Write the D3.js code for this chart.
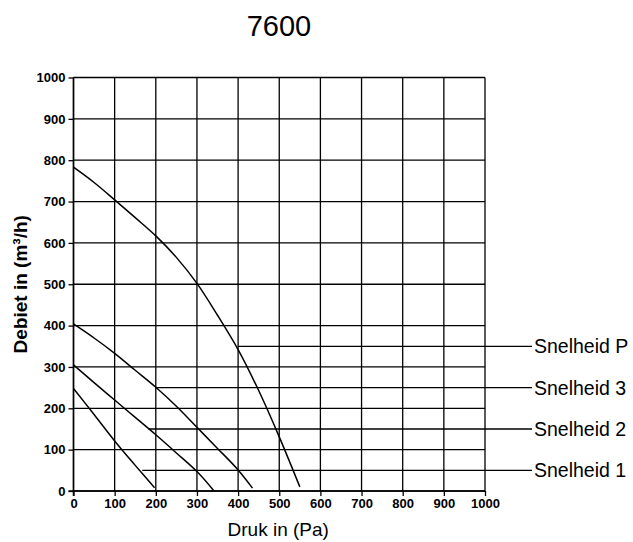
<!DOCTYPE html>
<html>
<head>
<meta charset="utf-8">
<script src="https://cdn.jsdelivr.net/npm/d3@7"></script>
<style>
  body { margin: 0; background: #fff; }
  svg { font-family: "Liberation Sans", Arial, sans-serif; }
</style>
</head>
<body>
<svg id="chart" width="633" height="542"></svg>
<script>
// curves: [druk (Pa), debiet (m3/h)]
var snelheid1 = [[0, 248], [50, 185], [100, 121], [150, 62], [197, 8]];
var snelheid2 = [[0, 305], [50, 262], [100, 220], [150, 178], [200, 136], [250, 92], [300, 47], [340, 2]];
var snelheid3 = [[0, 404], [50, 370], [100, 333], [150, 292], [200, 251], [250, 205], [300, 154], [350, 103], [400, 51], [435, 7]];
var snelheidP = [[0, 783], [50, 746], [100, 704], [150, 661], [200, 617], [250, 565], [300, 502], [350, 425], [400, 342], [450, 243], [500, 131], [550, 10]];

// legend: label, the level it points at, where the leader line starts
var legendNames = ["Snelheid P", "Snelheid 3", "Snelheid 2", "Snelheid 1"];
var legendLevels = [350, 250, 150, 50];
var legendStart = [400, 200, 182, 167];

var xTicks = d3.range(0, 1001, 100);
var yTicks = d3.range(0, 1001, 100);

var svg = d3.select("#chart");

var x = d3.scaleLinear().domain([0, 1000]).range([73.5, 485]);
var y = d3.scaleLinear().domain([0, 1000]).range([491, 77.5]);

// grid
var grid = svg.append("g").attr("stroke", "#000").attr("stroke-width", 1.3);
grid.selectAll(".vx").data(xTicks).enter().append("line")
  .attr("x1", function(d) { return x(d); })
  .attr("x2", function(d) { return x(d); })
  .attr("y1", y(0)).attr("y2", y(1000));
grid.selectAll(".hy").data(yTicks).enter().append("line")
  .attr("y1", function(d) { return y(d); })
  .attr("y2", function(d) { return y(d); })
  .attr("x1", x(0)).attr("x2", x(1000));

// axes
var fmt = d3.format("d");
var xAxis = svg.append("g")
  .attr("transform", "translate(0," + y(0) + ")")
  .call(d3.axisBottom(x).tickValues(xTicks).tickFormat(fmt).tickSize(5).tickPadding(3));
var yAxis = svg.append("g")
  .attr("transform", "translate(" + x(0) + ",0)")
  .call(d3.axisLeft(y).tickValues(yTicks).tickFormat(fmt).tickSize(5).tickPadding(3));

[xAxis, yAxis].forEach(function(a) {
  a.select(".domain").remove();
  a.selectAll(".tick line").attr("stroke", "#000").attr("stroke-width", 1.3);
  a.selectAll(".tick text")
    .attr("fill", "#000")
    .style("font-size", "13px")
    .style("font-weight", "bold")
    .style("font-family", "'Liberation Sans', Arial, sans-serif");
});
// the axis lines themselves
svg.append("line").attr("x1", x(0)).attr("x2", x(0)).attr("y1", y(0) + 5).attr("y2", y(1000))
  .attr("stroke", "#000").attr("stroke-width", 1.5);
svg.append("line").attr("x1", x(0) - 5).attr("x2", x(1000)).attr("y1", y(0)).attr("y2", y(0))
  .attr("stroke", "#000").attr("stroke-width", 1.5);

// curves
var line = d3.line()
  .x(function(d) { return x(d[0]); })
  .y(function(d) { return y(d[1]); })
  .curve(d3.curveCatmullRom);

[snelheid1, snelheid2, snelheid3, snelheidP].forEach(function(s) {
  svg.append("path")
    .datum(s)
    .attr("d", line)
    .attr("fill", "none")
    .attr("stroke", "#000")
    .attr("stroke-width", 1.5);
});

// legend leader lines and labels
var legendEnd = 532;
legendNames.forEach(function(name, i) {
  svg.append("line")
    .attr("x1", x(legendStart[i]))
    .attr("x2", legendEnd)
    .attr("y1", y(legendLevels[i]))
    .attr("y2", y(legendLevels[i]))
    .attr("stroke", "#000")
    .attr("stroke-width", 1.3);
  svg.append("text")
    .attr("x", legendEnd + 2)
    .attr("y", y(legendLevels[i]))
    .attr("dy", "0.36em")
    .style("font-size", "19.5px")
    .text(name);
});

// title
svg.append("text")
  .attr("x", 279)
  .attr("y", 36)
  .attr("text-anchor", "middle")
  .style("font-size", "29px")
  .text("7600");

// axis titles
svg.append("text")
  .attr("x", (x(0) + x(1000)) / 2 - 1)
  .attr("y", 536)
  .attr("text-anchor", "middle")
  .style("font-size", "19px")
  .text("Druk in (Pa)");

svg.append("text")
  .attr("transform", "translate(27," + ((y(0) + y(1000)) / 2) + ") rotate(-90)")
  .attr("text-anchor", "middle")
  .style("font-size", "19px")
  .style("font-weight", "bold")
  .text("Debiet in (m³/h)");
</script>
</body>
</html>
